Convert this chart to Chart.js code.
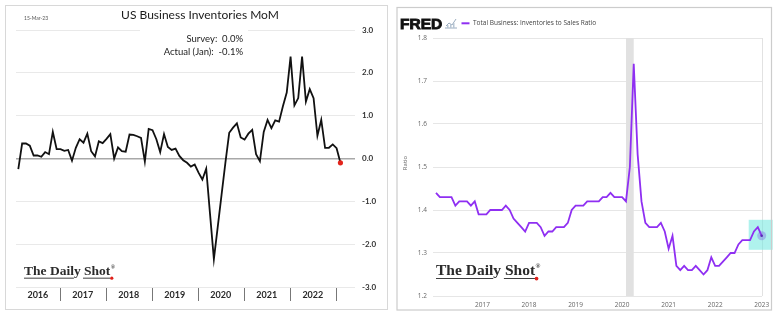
<!DOCTYPE html>
<html>
<head>
<meta charset="utf-8">
<script src="https://cdn.jsdelivr.net/npm/chart.js@4.4.1/dist/chart.umd.min.js"></script>
<style>
  html, body { margin: 0; padding: 0; background: #fff; }
  #wrap { position: relative; width: 780px; height: 321px; overflow: hidden; }
  canvas { position: absolute; top: 0; }
  #inv { left: 0; }
  #ratio { left: 390px; }
</style>
</head>
<body>
<div id="wrap">
  <canvas id="inv" width="390" height="321"></canvas>
  <canvas id="ratio" width="390" height="321"></canvas>
</div>
<script>
// US business inventories, % change m/m, Jan 2016 .. Jan 2023
const inventoriesMoM = [
  -0.25, 0.35, 0.35, 0.3, 0.07, 0.07, 0.04, 0.15, 0.1, 0.62, 0.22, 0.22,
  0.18, 0.2, -0.05, 0.25, 0.45, 0.37, 0.58, 0.17, 0.05, 0.4, 0.36, 0.46,
  0.57, 0.0, 0.26, 0.17, 0.16, 0.56, 0.55, 0.52, 0.48, -0.07, 0.69, 0.66,
  0.45, 0.15, 0.57, 0.27, 0.2, 0.23, 0.06, -0.04, -0.1, -0.19, -0.14, -0.33,
  -0.49, -0.24, -1.3, -2.35, -1.6, -0.85, -0.1, 0.6, 0.72, 0.82, 0.49, 0.44,
  0.58, 0.67, 0.1, -0.06, 0.62, 0.9, 0.71, 0.89, 0.86, 1.22, 1.54, 2.38,
  1.24, 1.41, 2.38, 1.33, 1.62, 1.41, 0.53, 0.9, 0.25, 0.25, 0.33, 0.24,
  -0.1
]

// Total business inventories to sales ratio, Jan 2016 .. Jan 2023
const salesRatio = [
  1.44, 1.43, 1.43, 1.43, 1.43, 1.41, 1.42, 1.42, 1.42, 1.41, 1.42, 1.39,
  1.39, 1.39, 1.40, 1.40, 1.40, 1.40, 1.41, 1.40, 1.38, 1.37, 1.36, 1.35,
  1.37, 1.37, 1.37, 1.36, 1.34, 1.35, 1.35, 1.36, 1.36, 1.36, 1.37, 1.40,
  1.41, 1.41, 1.41, 1.42, 1.42, 1.42, 1.42, 1.43, 1.43, 1.44, 1.43, 1.43,
  1.43, 1.42, 1.50, 1.74, 1.53, 1.42, 1.37, 1.36, 1.36, 1.36, 1.37, 1.35,
  1.31, 1.34, 1.27, 1.26, 1.27, 1.26, 1.26, 1.27, 1.26, 1.25, 1.26, 1.29,
  1.27, 1.27, 1.28, 1.29, 1.30, 1.30, 1.32, 1.33, 1.33, 1.33, 1.35, 1.36,
  1.34
]

const momYears = ['2016', '2017', '2018', '2019', '2020', '2021', '2022']
const ratioYears = ['2017', '2018', '2019', '2020', '2021', '2022', '2023']
const momTicks = [-3, -2, -1, 0, 1, 2, 3]
const ratioTicks = [1.2, 1.3, 1.4, 1.5, 1.6, 1.7, 1.8]
const surveyLines = ['Survey:  0.0%', 'Actual (Jan):  -0.1%']
// Feb 2020 .. Apr 2020 recession, as month index from Jan 2016
const recession = [49, 51]

const toPoints = arr => arr.map((v, i) => ({ x: i, y: v }))

function drawDailyShot (ctx, x, base, size) {
  ctx.save()
  ctx.font = `bold ${size}px "Liberation Serif"`
  ctx.fillStyle = '#2b2b2b'
  ctx.textBaseline = 'alphabetic'
  ctx.textAlign = 'left'
  const text = 'The Daily Shot'
  ctx.fillText(text, x, base)
  const wDail = ctx.measureText('The Dail').width
  const wShotStart = ctx.measureText('The Daily ').width
  const wAll = ctx.measureText(text).width
  const uy = base + size * 0.2
  ctx.fillRect(x, uy, wDail, 0.9)
  ctx.fillRect(x + wShotStart - 1, uy, wAll - wShotStart + 1, 0.9)
  ctx.font = `bold ${size * 0.42}px "Liberation Serif"`
  ctx.fillText('®', x + wAll + 0.5, base - size * 0.45)
  ctx.fillStyle = '#e0201a'
  ctx.beginPath()
  ctx.arc(x + wAll + 1.5, uy + 0.5, size * 0.12, 0, Math.PI * 2)
  ctx.fill()
  ctx.restore()
}

const momDecor = {
  id: 'momDecor',
  afterDraw (chart) {
    const { ctx, chartArea: a, scales: { x } } = chart
    ctx.save()
    // panel frame
    ctx.strokeStyle = '#d8d8d8'
    ctx.lineWidth = 1
    ctx.strokeRect(5.5, 5.5, 382, 304)

    ctx.fillStyle = '#555'
    ctx.font = '5px Lato'
    ctx.textBaseline = 'middle'
    ctx.fillText('15-Mar-23', 24, 18)

    ctx.fillStyle = '#1a1a1a'
    ctx.font = '12px Lato'
    ctx.textAlign = 'center'
    ctx.fillText('US Business Inventories MoM', 200, 15)

    // survey box sits over the top gridline
    ctx.fillStyle = '#fff'
    ctx.fillRect(140, 25, 108, 33)
    ctx.fillStyle = '#222'
    ctx.font = '9.5px Lato'
    ctx.textAlign = 'right'
    surveyLines.forEach((t, k) => ctx.fillText(t, 243, 38.5 + k * 13.5))

    // year band under the plot
    const seps = momYears.map((y, k) => x.getPixelForValue(10.8 + 12 * k))
    ctx.strokeStyle = '#777'
    ctx.lineWidth = 1
    seps.forEach(px => {
      ctx.beginPath()
      ctx.moveTo(Math.round(px) + 0.5, a.bottom + 1)
      ctx.lineTo(Math.round(px) + 0.5, a.bottom + 14)
      ctx.stroke()
    })
    ctx.fillStyle = '#2a2a2a'
    ctx.font = 'bold 9px Lato'
    ctx.textAlign = 'center'
    momYears.forEach((y, k) => {
      const l = k === 0 ? a.left : seps[k - 1]
      ctx.fillText(y, (l + seps[k]) / 2, a.bottom + 8)
    })
    ctx.restore()

    drawDailyShot(ctx, 24, 275, 13.5)
  }
}

const ratioDecor = {
  id: 'ratioDecor',
  beforeDatasetsDraw (chart) {
    const { ctx, chartArea: a, scales: { x, y } } = chart
    ctx.save()
    ctx.fillStyle = '#e1e1e1'
    const r0 = x.getPixelForValue(recession[0])
    const r1 = x.getPixelForValue(recession[1])
    ctx.fillRect(r0, a.top, r1 - r0, a.bottom - a.top)

    // right edge of the plot
    ctx.strokeStyle = '#e2e2e2'
    ctx.beginPath()
    ctx.moveTo(Math.round(a.right) + 0.5, a.top)
    ctx.lineTo(Math.round(a.right) + 0.5, a.bottom)
    ctx.stroke()

    // highlight around the latest reading
    const last = salesRatio.length - 1
    const lx = x.getPixelForValue(last)
    const ly = y.getPixelForValue(salesRatio[last])
    ctx.fillStyle = 'rgba(110, 232, 222, 0.55)'
    ctx.fillRect(lx - 13, ly - 16, 24, 30)
    ctx.restore()
  },
  afterDraw (chart) {
    const { ctx, scales: { x, y } } = chart
    ctx.save()
    ctx.strokeStyle = '#cccccc'
    ctx.lineWidth = 1.2
    ctx.strokeRect(7, 7.5, 374.5, 302.5)

    const last = salesRatio.length - 1
    const lx = x.getPixelForValue(last)
    const ly = y.getPixelForValue(salesRatio[last])
    ctx.fillStyle = 'rgba(120, 90, 225, 0.35)'
    ctx.beginPath()
    ctx.arc(lx, ly, 4.5, 0, Math.PI * 2)
    ctx.fill()
    ctx.fillStyle = '#5a2cb4'
    ctx.beginPath()
    ctx.arc(lx, ly, 1.3, 0, Math.PI * 2)
    ctx.fill()

    // FRED header
    ctx.fillStyle = '#111'
    ctx.strokeStyle = '#111'
    ctx.lineWidth = 0.9
    ctx.font = 'bold 15.5px "Liberation Sans"'
    ctx.textBaseline = 'alphabetic'
    ctx.fillText('FRED', 10, 28.5)
    ctx.strokeText('FRED', 10, 28.5)

    // small chart glyph next to the logo
    ctx.strokeStyle = '#8fa3b8'
    ctx.lineWidth = 0.9
    ctx.beginPath()
    ctx.moveTo(55, 28); ctx.lineTo(67, 28)
    ctx.moveTo(56, 26); ctx.lineTo(59, 23); ctx.lineTo(62, 25); ctx.lineTo(66, 19)
    ctx.stroke()
    ctx.fillStyle = '#b8c6d4'
    ctx.fillRect(57, 25, 1.5, 3)
    ctx.fillRect(60, 24, 1.5, 4)
    ctx.fillRect(63, 23, 1.5, 5)

    ctx.strokeStyle = '#8f2ff2'
    ctx.lineWidth = 2
    ctx.beginPath()
    ctx.moveTo(71.5, 23.3); ctx.lineTo(79.5, 23.3)
    ctx.stroke()
    ctx.fillStyle = '#444'
    ctx.font = '6.5px "Open Sans"'
    ctx.textBaseline = 'middle'
    ctx.fillText('Total Business: Inventories to Sales Ratio', 83, 23.5)

    ctx.translate(15, 163)
    ctx.rotate(-Math.PI / 2)
    ctx.textAlign = 'center'
    ctx.fillStyle = '#666'
    ctx.font = '6px "Open Sans"'
    ctx.fillText('Ratio', 0, 0)
    ctx.restore()

    drawDailyShot(ctx, 46, 275, 15.5)
  }
}

const lastMom = inventoriesMoM.length - 1

new Chart(document.getElementById('inv'), {
  type: 'line',
  data: {
    datasets: [{
      data: toPoints(inventoriesMoM),
      borderColor: '#111',
      borderWidth: 1.8,
      tension: 0,
      pointRadius: ctx => ctx.dataIndex === lastMom ? 2.6 : 0,
      pointBackgroundColor: '#e3241b',
      pointBorderWidth: 0
    }]
  },
  options: {
    responsive: false,
    animation: false,
    devicePixelRatio: 1,
    layout: { padding: { top: 30, left: 16, right: 0, bottom: 34 } },
    plugins: { legend: { display: false }, tooltip: { enabled: false } },
    scales: {
      x: { type: 'linear', display: false, min: -0.6, max: 87.8 },
      y: {
        position: 'right',
        min: -3,
        max: 3,
        afterBuildTicks: s => { s.ticks = momTicks.map(v => ({ value: v })) },
        afterFit: s => { s.width = 35 },
        grid: {
          color: c => c.tick && c.tick.value === 0 ? '#a8a8a8' : '#e9e9e9',
          lineWidth: c => c.tick && c.tick.value === 0 ? 1.6 : 1,
          drawTicks: false
        },
        border: { display: false },
        ticks: {
          padding: 7,
          color: '#333',
          font: { family: 'Lato', size: 8, weight: 'bold' },
          callback: v => v.toFixed(1)
        }
      }
    }
  },
  plugins: [momDecor]
})

new Chart(document.getElementById('ratio'), {
  type: 'line',
  data: {
    datasets: [{
      data: toPoints(salesRatio),
      borderColor: '#8f2ff2',
      borderWidth: 1.8,
      tension: 0,
      pointRadius: 0
    }]
  },
  options: {
    responsive: false,
    animation: false,
    devicePixelRatio: 1,
    layout: { padding: { top: 38, left: 0, right: 18, bottom: 0 } },
    plugins: { legend: { display: false }, tooltip: { enabled: false } },
    scales: {
      x: {
        type: 'linear',
        min: -0.77,
        max: 84.08,
        afterBuildTicks: s => { s.ticks = ratioYears.map((y, k) => ({ value: 12 * (k + 1) })) },
        afterFit: s => { s.height = 25 },
        grid: { display: false, drawTicks: false },
        border: { display: false },
        ticks: {
          padding: 5,
          color: '#666',
          font: { family: 'Open Sans', size: 6.5 },
          callback: v => ratioYears[v / 12 - 1]
        }
      },
      y: {
        min: 1.2,
        max: 1.8,
        afterBuildTicks: s => { s.ticks = ratioTicks.map(v => ({ value: v })) },
        afterFit: s => { s.width = 43 },
        grid: { color: '#e6e6e6', drawTicks: false },
        border: { display: false },
        ticks: {
          padding: 6,
          color: '#666',
          font: { family: 'Open Sans', size: 6.5 },
          callback: v => v.toFixed(1)
        }
      }
    }
  },
  plugins: [ratioDecor]
})
</script>
</body>
</html>
